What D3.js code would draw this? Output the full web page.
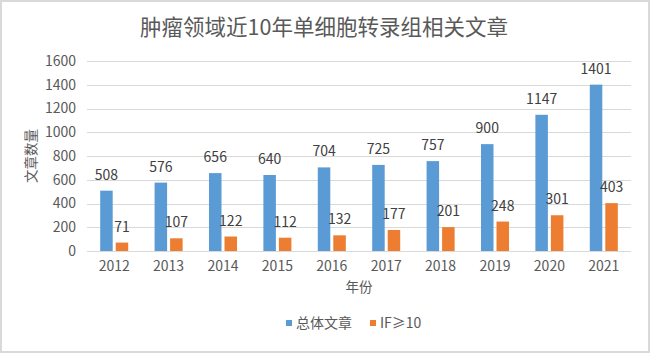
<!DOCTYPE html>
<html lang="zh">
<head>
<meta charset="UTF-8">
<title>肿瘤领域近10年单细胞转录组相关文章</title>
<script src="https://d3js.org/d3.v7.min.js"></script>
<style>
    body { margin: 0; background: #fff; }
    svg { display: block; font-family: "Noto Sans CJK SC", "Noto Sans", sans-serif; }
</style>
</head>
<body>
<svg id="chart" width="650" height="353"></svg>
<script>
    // data
    const years = ["2012", "2013", "2014", "2015", "2016", "2017", "2018", "2019", "2020", "2021"];
    const seriesNames = ["总体文章", "IF≥10"];
    const total = [508, 576, 656, 640, 704, 725, 757, 900, 1147, 1401];
    const highIF = [71, 107, 122, 112, 132, 177, 201, 248, 301, 403];
    const yTicks = [0, 200, 400, 600, 800, 1000, 1200, 1400, 1600];
    const colors = ["#5B9BD5", "#ED7D31"];

    const width = 650, height = 353;
    const margin = { top: 61, right: 19, bottom: 102, left: 87 };

    const svg = d3.select("#chart");

    // border
    svg.append("rect")
        .attr("x", 1).attr("y", 1)
        .attr("width", width - 2).attr("height", height - 2)
        .attr("fill", "#fff")
        .attr("stroke", "#d9d9d9")
        .attr("stroke-width", 2);

    const rows = years.map((y, i) => ({ year: y, values: [total[i], highIF[i]] }));

    const x0 = d3.scaleBand()
        .domain(years)
        .range([margin.left, width - margin.right])
        .paddingInner(0.485)
        .paddingOuter(0.2425);

    const x1 = d3.scaleBand()
        .domain(d3.range(seriesNames.length))
        .range([0, x0.bandwidth()])
        .paddingInner(0.194);

    const y = d3.scaleLinear()
        .domain([0, 1600])
        .range([height - margin.bottom, margin.top]);

    // gridlines
    svg.append("g")
        .selectAll("line")
        .data(yTicks)
        .enter().append("line")
        .attr("x1", margin.left)
        .attr("x2", width - margin.right)
        .attr("y1", d => Math.round(y(d)) + 0.5)
        .attr("y2", d => Math.round(y(d)) + 0.5)
        .attr("stroke", "#d9d9d9")
        .attr("stroke-width", 1);

    // y tick labels
    svg.append("g")
        .selectAll("text")
        .data(yTicks)
        .enter().append("text")
        .attr("x", 76)
        .attr("y", d => y(d))
        .attr("dy", "0.35em")
        .attr("text-anchor", "end")
        .attr("font-size", "14px")
        .attr("fill", "#595959")
        .text(d => d);

    // bars
    const groups = svg.append("g")
        .selectAll("g")
        .data(rows)
        .enter().append("g")
        .attr("transform", d => `translate(${x0(d.year)},0)`);

    groups.selectAll("rect")
        .data(d => d.values.map((v, i) => ({ i, v })))
        .enter().append("rect")
        .attr("x", d => x1(d.i))
        .attr("y", d => y(d.v))
        .attr("width", x1.bandwidth())
        .attr("height", d => y(0) - y(d.v))
        .attr("fill", d => colors[d.i]);

    groups.selectAll("text")
        .data(d => d.values.map((v, i) => ({ i, v })))
        .enter().append("text")
        .attr("x", d => x1(d.i) + x1.bandwidth() / 2)
        .attr("y", d => y(d.v) - 11)
        .attr("text-anchor", "middle")
        .attr("font-size", "14px")
        .attr("fill", "#404040")
        .text(d => d.v);

    // x tick labels
    svg.append("g")
        .selectAll("text")
        .data(years)
        .enter().append("text")
        .attr("x", d => x0(d) + x0.bandwidth() / 2)
        .attr("y", 266)
        .attr("dy", "0.35em")
        .attr("text-anchor", "middle")
        .attr("font-size", "14px")
        .attr("fill", "#595959")
        .text(d => d);

    // title
    svg.append("text")
        .attr("x", 324)
        .attr("y", 27)
        .attr("dy", "0.35em")
        .attr("text-anchor", "middle")
        .attr("font-size", "21.5px")
        .attr("fill", "#595959")
        .text("肿瘤领域近10年单细胞转录组相关文章");

    // axis titles
    svg.append("text")
        .attr("x", (margin.left + width - margin.right) / 2)
        .attr("y", 287)
        .attr("dy", "0.35em")
        .attr("text-anchor", "middle")
        .attr("font-size", "13.5px")
        .attr("fill", "#595959")
        .text("年份");

    svg.append("text")
        .attr("transform", `translate(31,${(y(0) + y(1600)) / 2}) rotate(-90)`)
        .attr("dy", "0.35em")
        .attr("text-anchor", "middle")
        .attr("font-size", "13.5px")
        .attr("fill", "#595959")
        .text("文章数量");

    // legend
    const legendX = [286, 370];
    const legend = svg.append("g")
        .selectAll("g")
        .data(seriesNames)
        .enter().append("g")
        .attr("transform", (d, i) => `translate(${legendX[i]},323)`);

    legend.append("rect")
        .attr("x", 0).attr("y", -3)
        .attr("width", 6).attr("height", 6)
        .attr("fill", (d, i) => colors[i]);

    legend.append("text")
        .attr("x", 10)
        .attr("dy", "0.35em")
        .attr("font-size", "14px")
        .attr("fill", "#595959")
        .text(d => d);
</script>
</body>
</html>
